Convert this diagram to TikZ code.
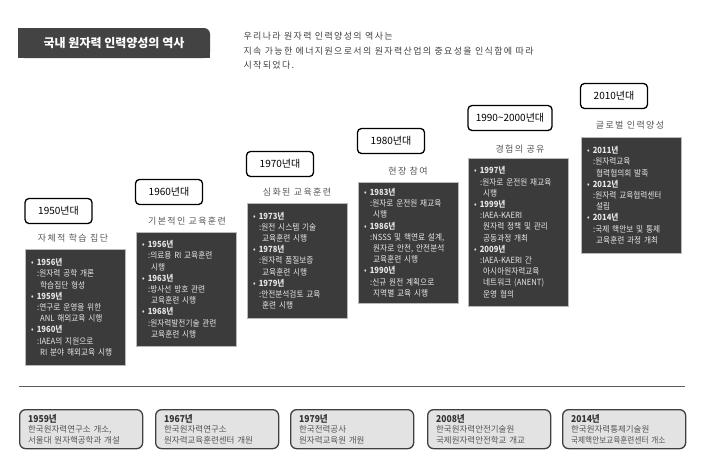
\documentclass[tikz,border=0pt]{standalone}
\usepackage{fontspec}
\usepackage{xcolor}
\usepackage{tikz}
\setmainfont{Noto Sans CJK KR}
\newfontfamily\krcond{Noto Sans CJK KR}[FakeStretch=0.9]
\newfontfamily\krwide{Noto Sans CJK KR}[LetterSpace=15]
\definecolor{darkfill}{HTML}{3B3B3B}
\definecolor{titlefill}{HTML}{434343}
\definecolor{subgray}{HTML}{555555}
\definecolor{notefill}{HTML}{E3E3E3}
\definecolor{rulegray}{HTML}{5A5A5A}
\newcommand{\yrb}[1]{\textbullet\hspace{3pt}\textbf{#1}}
\newcommand{\colb}{\hspace*{6pt}:}
\newcommand{\contb}{\hspace*{9pt}}
\newcommand{\noteyr}[1]{{\color{black!80}\bfseries\krcond\fontsize{9.5}{11}\selectfont #1}}

\begin{document}
\begin{tikzpicture}[x=1pt,y=-1pt,
  eranode/.style={draw=black, line width=1.3pt, rounded corners=4pt, fill=white,
    minimum height=25pt, minimum width=67pt, inner sep=0pt, font=\fontsize{10}{12}\selectfont},
  subnode/.style={text=subgray, font=\krwide\fontsize{9}{10}\selectfont},
  darknode/.style={fill=darkfill, draw=gray!55, text=white!90!black, text width=88pt,
    minimum width=100pt, inner xsep=6pt, align=left, anchor=north west,
    font=\krcond\fontsize{8.5}{11.2}\selectfont},
  notenode/.style={fill=notefill, draw=black!75, line width=1.3pt, rounded corners=6pt,
    text=subgray, text width=106pt, minimum width=123pt, minimum height=39pt,
    inner xsep=8pt, align=left, anchor=north west, font=\fontsize{8.5}{10.5}\selectfont}]
  \useasboundingbox (0,0) rectangle (703,459);

  % title bar %
  \fill[titlefill, rounded corners=6pt] (18,28) rectangle (210,58);
  \fill[titlefill] (18,28) rectangle (195,58);
  \fill[titlefill] (195,44) rectangle (210,58);
  \node[text=white, font=\bfseries\fontsize{12}{14}\selectfont] (title) at (114,43) {국내 원자력 인력양성의 역사};

  \node[anchor=north west, align=left, text=black!75, font=\krwide\fontsize{9}{14.5}\selectfont] (intro) at (240,29)
    {우리나라 원자력 인력양성의 역사는\\
     지속 가능한 에너지원으로서의 원자력산업의 중요성을 인식함에 따라\\
     시작되었다.};

  % decades %
  \node[eranode] (e50) at (58.5,211) {1950년대};
  \node[eranode] (e60) at (169,192) {1960년대};
  \node[eranode] (e70) at (280,164) {1970년대};
  \node[eranode] (e80) at (391,141) {1980년대};
  \node[eranode, minimum width=84pt] (e90) at (510,118) {1990\textasciitilde2000년대};
  \node[eranode] (e10) at (614,96) {2010년대};

  \node[subnode] (s50) at (73,238) {자체적 학습 집단};
  \node[subnode] (s60) at (187,221) {기본적인 교육훈련};
  \node[subnode] (s70) at (297,192) {심화된 교육훈련};
  \node[subnode] (s80) at (408,171) {현장 참여};
  \node[subnode] (s90) at (520,149) {경험의 공유};
  \node[subnode] (s10) at (630,125) {글로벌 인력양성};

  % what happened %
  \node[darknode, minimum height=116pt] (d50) at (25,249)
    {\yrb{1956년}\\ \colb 원자력 공학 개론\\ \contb 학습집단 형성\\
     \yrb{1959년}\\ \colb 연구로 운영을 위한\\ \contb ANL 해외교육 시행\\
     \yrb{1960년}\\ \colb IAEA의 지원으로\\ \contb RI 분야 해외교육 시행};
  \node[darknode, minimum height=114pt] (d60) at (136,232)
    {\yrb{1956년}\\ \colb 의료용 RI 교육훈련\\ \contb 시행\\
     \yrb{1963년}\\ \colb 방사선 방호 관련\\ \contb 교육훈련 시행\\
     \yrb{1968년}\\ \colb 원자력발전기술 관련\\ \contb 교육훈련 시행};
  \node[darknode, minimum height=115pt] (d70) at (247,203)
    {\yrb{1973년}\\ \colb 원전 시스템 기술\\ \contb 교육훈련 시행\\
     \yrb{1978년}\\ \colb 원자력 품질보증\\ \contb 교육훈련 시행\\
     \yrb{1979년}\\ \colb 안전분석검토 교육\\ \contb 훈련 시행};
  \node[darknode, minimum height=121pt] (d80) at (358,182)
    {\yrb{1983년}\\ \colb 원자로 운전원 재교육\\ \contb 시행\\
     \yrb{1986년}\\ \colb NSSS 및 핵연료 설계,\\ \contb 원자로 안전, 안전분석\\ \contb 교육훈련 시행\\
     \yrb{1990년}\\ \colb 신규 원전 계획으로\\ \contb 지역별 교육 시행};
  \node[darknode, minimum height=148pt] (d90) at (468,158)
    {\yrb{1997년}\\ \colb 원자로 운전원 재교육\\ \contb 시행\\
     \yrb{1999년}\\ \colb IAEA-KAERI\\ \contb 원자력 정책 및 관리\\ \contb 공동과정 개최\\
     \yrb{2009년}\\ \colb IAEA-KAERI 간\\ \contb 아시아원자력교육\\ \contb 네트워크 (ANENT)\\ \contb 운영 협의};
  \node[darknode, minimum height=116pt] (d10) at (581,137)
    {\yrb{2011년}\\ \colb 원자력교육\\ \contb 협력협의회 발족\\
     \yrb{2012년}\\ \colb 원자력 교육협력센터\\ \contb 설립\\
     \yrb{2014년}\\ \colb 국제 핵안보 및 통제\\ \contb 교육훈련 과정 개최};

  % institutions %
  \coordinate (ruleL) at (19,386);
  \coordinate (ruleR) at (685,386);
  \draw[rulegray, line width=0.9pt] (ruleL) -- (ruleR);

  \node[notenode] (n1) at (19,409)
    {\noteyr{1959년}\\ 한국원자력연구소 개소,\\ 서울대 원자핵공학과 개설};
  \node[notenode] (n2) at (155,409)
    {\noteyr{1967년}\\ 한국원자력연구소\\ 원자력교육훈련센터 개원};
  \node[notenode] (n3) at (290,409)
    {\noteyr{1979년}\\ 한국전력공사\\ 원자력교육원 개원};
  \node[notenode] (n4) at (427,409)
    {\noteyr{2008년}\\ 한국원자력안전기술원\\ 국제원자력안전학교 개교};
  \node[notenode] (n5) at (562,409)
    {\noteyr{2014년}\\ 한국원자력통제기술원\\ {\krcond 국제핵안보교육훈련센터 개소}};
\end{tikzpicture}
\end{document}
